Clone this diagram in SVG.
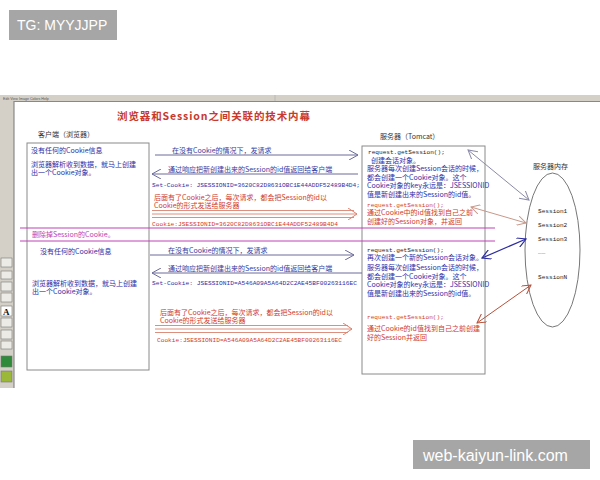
<svg xmlns="http://www.w3.org/2000/svg" width="600" height="480" viewBox="0 0 600 480">
<style>
.cj{font-family:"Noto Sans CJK SC","Noto Sans",sans-serif;font-size:7px}
.mo{font-family:"Liberation Mono","DejaVu Sans Mono",monospace;font-size:6.1px}
.bl{fill:#2e2ea8}
.rd{fill:#d03a2c}
.bk{fill:#222}
.mg{fill:#c03cb0}
.box{fill:#fff;stroke:#8a8a8a;stroke-width:1}
.wm{fill:#a6a6a6}
.wmt{font-family:"Liberation Sans",Arial,sans-serif;fill:#fff}
</style>
<defs>
<marker id="vg" markerWidth="10" markerHeight="10" refX="9" refY="5" orient="auto-start-reverse" markerUnits="userSpaceOnUse"><path d="M0,0 L9,5 L0,10" fill="none" stroke="#6b6b9b" stroke-width="1"/></marker>
<marker id="vr" markerWidth="10" markerHeight="12" refX="9" refY="6" orient="auto" markerUnits="userSpaceOnUse"><path d="M0,0 L9,6 L0,12" fill="none" stroke="#d9826f" stroke-width="1"/></marker>
<marker id="e1" markerWidth="10" markerHeight="10" refX="9" refY="5" orient="auto-start-reverse" markerUnits="userSpaceOnUse"><path d="M0,0 L9,5 L0,10" fill="none" stroke="#8a8aa8" stroke-width="1"/></marker>
<marker id="e2" markerWidth="10" markerHeight="10" refX="9" refY="5" orient="auto-start-reverse" markerUnits="userSpaceOnUse"><path d="M0,0 L9,5 L0,10" fill="none" stroke="#c89888" stroke-width="1"/></marker>
<marker id="e3" markerWidth="10" markerHeight="10" refX="9" refY="5" orient="auto-start-reverse" markerUnits="userSpaceOnUse"><path d="M0,0 L9,5 L0,10" fill="none" stroke="#2c2ca0" stroke-width="1.2"/></marker>
<marker id="e4" markerWidth="10" markerHeight="10" refX="9" refY="5" orient="auto-start-reverse" markerUnits="userSpaceOnUse"><path d="M0,0 L9,5 L0,10" fill="none" stroke="#b8503a" stroke-width="1"/></marker>
</defs>
<rect width="600" height="480" fill="#fff"/>

<!-- watermarks -->
<g id="wm-top"><rect class="wm" x="9" y="10" width="108" height="30"/><text class="wmt" x="17" y="30" font-size="14">TG: MYYJJPP</text></g>

<!-- window chrome -->
<g id="window">
<rect x="0" y="95" width="600" height="6" fill="#d4d0c8"/>
<text x="3" y="99.5" font-family="Liberation Sans,sans-serif" font-size="3.6" fill="#555">Edit   View   Image   Colors   Help</text>
<line x1="275" y1="95" x2="275" y2="101" stroke="#aaa" stroke-width="0.6"/>
<rect x="0" y="101" width="14" height="287" fill="#d4d0c8"/>
<line x1="14" y1="101" x2="14" y2="388" stroke="#777" stroke-width="1"/>
<line x1="14" y1="101.5" x2="600" y2="101.5" stroke="#888" stroke-width="1"/>
<g fill="#ecebe6" stroke="#777" stroke-width="0.6">
<rect x="1" y="258" width="11" height="9"/>
<rect x="1" y="271" width="11" height="8"/>
<rect x="1" y="282" width="11" height="9"/>
<rect x="1" y="293" width="11" height="9"/>
<rect x="1" y="306" width="11" height="10" fill="#fff"/>
<rect x="1" y="318" width="11" height="9"/>
<rect x="1" y="330" width="11" height="9"/>
<rect x="1" y="341" width="11" height="8"/>
<rect x="1" y="356" width="11" height="11" fill="#2f8a3a"/>
<rect x="1" y="371" width="11" height="11" fill="#9bb838"/>
</g>
<text x="3" y="314.5" font-family="Liberation Serif,serif" font-weight="bold" font-size="9" fill="#111">A</text>
</g>

<!-- title -->
<g id="title"><text x="117" y="120" font-family="Noto Sans CJK SC,sans-serif" font-size="10.5" font-weight="bold" fill="#c8392b" textLength="193" lengthAdjust="spacing">浏览器和Session之间关联的技术内幕</text></g>

<!-- client -->
<g id="client">
<text class="cj" x="38" y="137" fill="#333">客户端（浏览器）</text>
<rect class="box" x="27" y="143" width="122" height="227"/>
<text class="cj bl" x="31" y="152.5">没有任何的Cookie信息</text>
<text class="cj bl" x="31" y="166.5">浏览器解析收到数据，就马上创建</text>
<text class="cj bl" x="31" y="175">出一个Cookie对象。</text>
<text class="cj bl" x="40" y="253.5">没有任何的Cookie信息</text>
<text class="cj bl" x="32" y="285.5">浏览器解析收到数据，就马上创建</text>
<text class="cj bl" x="32" y="294">出一个Cookie对象。</text>
</g>

<!-- server -->
<g id="server">
<text class="cj" x="380" y="139" fill="#333">服务器（Tomcat）</text>
<rect class="box" x="362" y="146" width="123" height="228"/>
<text class="mo bk" x="368" y="154">request.getSession();</text>
<text class="cj bl" x="371" y="162.5">创建会话对象。</text>
<text class="cj bl" x="367" y="171">服务器每次创建Session会话的时候，</text>
<text class="cj bl" x="367" y="179.5">都会创建一个Cookie对象。这个</text>
<text class="cj bl" x="367" y="188">Cookie对象的key永远是：JSESSIONID</text>
<text class="cj bl" x="367" y="196.5">值是新创建出来的Session的id值。</text>
<text class="mo rd" x="367" y="206.5">request.getSession();</text>
<text class="cj rd" x="367" y="215">通过Cookie中的id值找到自己之前</text>
<text class="cj rd" x="367" y="223.5">创建好的Session对象，并返回</text>
<text class="mo bk" x="367" y="251.5">request.getSession();</text>
<text class="cj bl" x="367" y="260">再次创建一个新的Session会话对象。</text>
<text class="cj bl" x="367" y="270">服务器每次创建Session会话的时候，</text>
<text class="cj bl" x="367" y="278.5">都会创建一个Cookie对象。这个</text>
<text class="cj bl" x="367" y="287">Cookie对象的key永远是：JSESSIONID</text>
<text class="cj bl" x="367" y="295.5">值是新创建出来的Session的id值。</text>
<text class="mo rd" x="367" y="318.5">request.getSession();</text>
<text class="cj rd" x="367" y="331">通过Cookie的id值找到自己之前创建</text>
<text class="cj rd" x="367" y="339.5">好的Session并返回</text>
</g>

<!-- memory -->
<g id="memory">
<text class="cj" x="533" y="168.5" fill="#333">服务器内存</text>
<ellipse cx="552.5" cy="250" rx="27.5" ry="77" fill="none" stroke="#777" stroke-width="1"/>
<text class="mo bk" x="538" y="213">Session1</text>
<text class="mo bk" x="538" y="227">Session2</text>
<text class="mo bk" x="538" y="241">Session3</text>
<text class="mo bk" x="538" y="254">……</text>
<text class="mo bk" x="538" y="279">SessionN</text>
</g>

<!-- separator -->
<g id="separator">
<line x1="20" y1="228" x2="495" y2="228" stroke="#c040b8" stroke-width="1"/>
<line x1="20" y1="241" x2="495" y2="241" stroke="#c040b8" stroke-width="1"/>
<text class="cj mg" x="32" y="237">删除掉Session的Cookie。</text>
</g>

<!-- connectors -->
<g id="connectors" fill="none">
<line x1="155" y1="155" x2="358" y2="155" stroke="#6b6b9b" stroke-width="1" marker-end="url(#vg)"/>
<line x1="358" y1="174" x2="152" y2="174" stroke="#6b6b9b" stroke-width="1" marker-end="url(#vg)"/>
<line x1="152" y1="210.5" x2="354" y2="210.5" stroke="#d9826f" stroke-width="0.9"/>
<line x1="152" y1="214" x2="357" y2="214" stroke="#d9826f" stroke-width="0.9" marker-end="url(#vr)"/>
<line x1="152" y1="217.5" x2="354" y2="217.5" stroke="#d9826f" stroke-width="0.9"/>
<line x1="150" y1="255" x2="354" y2="255" stroke="#6b6b9b" stroke-width="1" marker-end="url(#vg)"/>
<line x1="362" y1="273" x2="152" y2="273" stroke="#6b6b9b" stroke-width="1" marker-end="url(#vg)"/>
<line x1="155" y1="325.5" x2="348" y2="325.5" stroke="#d9826f" stroke-width="0.9"/>
<line x1="155" y1="329" x2="352" y2="329" stroke="#d9826f" stroke-width="0.9" marker-end="url(#vr)"/>
<line x1="155" y1="332.5" x2="348" y2="332.5" stroke="#d9826f" stroke-width="0.9"/>
<line x1="468" y1="150" x2="529" y2="200" stroke="#8a8aa8" stroke-width="1" marker-start="url(#e1)" marker-end="url(#e1)"/>
<line x1="471" y1="207" x2="526" y2="223" stroke="#c89888" stroke-width="1" marker-start="url(#e2)" marker-end="url(#e2)"/>
<line x1="482" y1="258" x2="526" y2="239" stroke="#2c2ca0" stroke-width="1.2" marker-start="url(#e3)" marker-end="url(#e3)"/>
<line x1="477" y1="323" x2="531" y2="285" stroke="#b8503a" stroke-width="1" marker-start="url(#e4)" marker-end="url(#e4)"/>
</g>

<!-- connector labels -->
<g id="labels">
<text class="cj" x="172" y="152.5" fill="#3a3a9e">在没有Cookie的情况下，发请求</text>
<text class="cj" x="168" y="171.5" fill="#3a3a9e">通过响应把新创建出来的Session的id值返回给客户端</text>
<text class="mo bl" x="152" y="186.5" textLength="208" lengthAdjust="spacingAndGlyphs">Set-Cookie: JSESSIONID=3620C82D8631OBC1E44ADDF52489B4D4;</text>
<text class="cj rd" x="154" y="199.5">后面有了Cookie之后，每次请求，都会把Session的id以</text>
<text class="cj rd" x="154" y="208">Cookie的形式发送给服务器</text>
<text class="mo rd" x="152" y="225.5" textLength="186" lengthAdjust="spacingAndGlyphs">Cookie:JSESSIONID=3620C82D8631OBC1E44ADDF52489B4D4</text>
<text class="cj" x="168" y="253" fill="#3a3a9e">在没有Cookie的情况下，发请求</text>
<text class="cj" x="168" y="270.5" fill="#3a3a9e">通过响应把新创建出来的Session的id值返回给客户端</text>
<text class="mo bl" x="152" y="284.5" textLength="205" lengthAdjust="spacingAndGlyphs">Set-Cookie: JSESSIONID=A546A09A5A64D2C2AE45BF00263116EC</text>
<text class="cj rd" x="160" y="314.5">后面有了Cookie之后，每次请求，都会把Session的id以</text>
<text class="cj rd" x="160" y="323">Cookie的形式发送给服务器</text>
<text class="mo rd" x="157" y="341.5" textLength="185" lengthAdjust="spacingAndGlyphs">Cookie:JSESSIONID=A546A09A5A64D2C2AE45BF00263116EC</text>
</g>

<g id="wm-bottom"><rect class="wm" x="413" y="440" width="177" height="29"/><text class="wmt" x="423" y="460.5" font-size="16">web-kaiyun-link.com</text></g>
</svg>
